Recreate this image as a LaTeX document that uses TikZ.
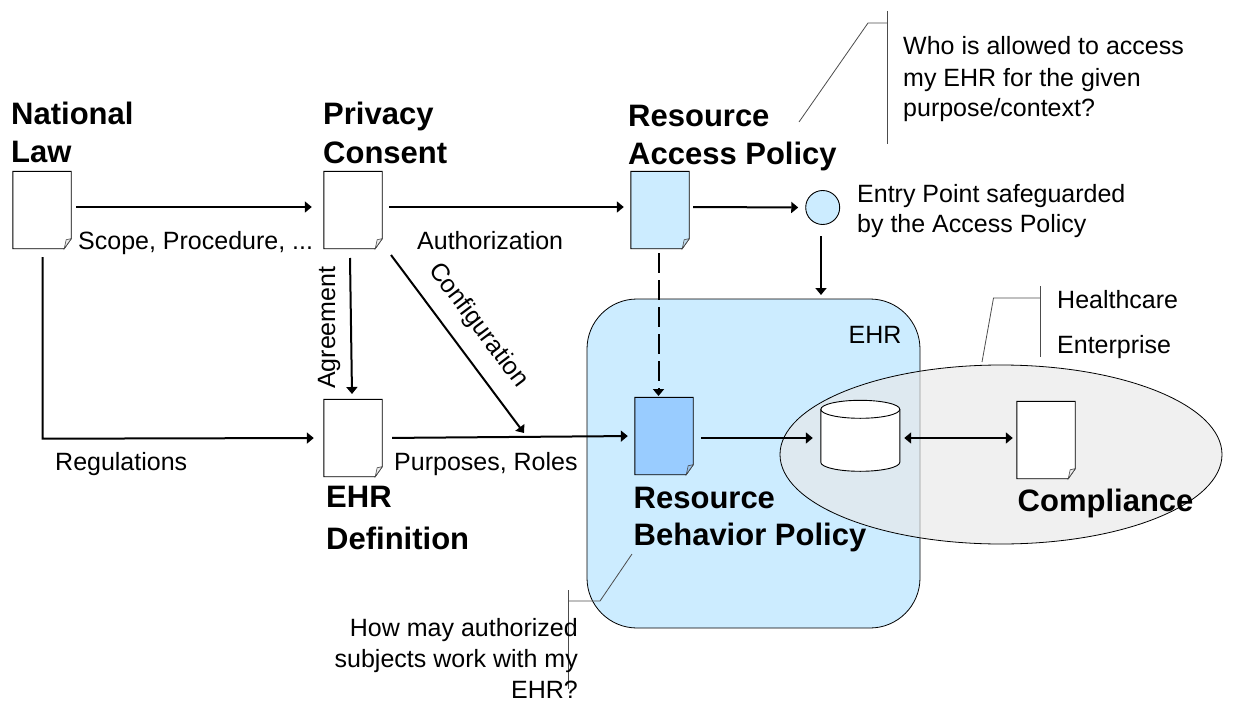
\documentclass[tikz,border=0pt]{standalone}
\usepackage{fontspec}
\setmainfont{Liberation Sans}
\usetikzlibrary{arrows.meta,shapes.geometric}
\definecolor{lightb}{HTML}{CCECFF}
\definecolor{midb}{HTML}{99CCFF}
\tikzset{
  page/.style={inner sep=0pt,minimum width=58pt,minimum height=77pt,draw=none},
  outl/.style={draw=black,line width=0.9pt},
  head/.style={inner sep=0pt,anchor=base west,font=\fontsize{31}{31}\selectfont\bfseries},
  lab/.style={inner sep=0pt,anchor=base west,font=\fontsize{25}{25}\selectfont},
  labr/.style={inner sep=0pt,anchor=base east,font=\fontsize{25}{25}\selectfont},
  arr/.style={line width=2pt,-{Triangle[width=11pt,length=7pt]}},
  darr/.style={line width=2pt,{Triangle[width=11pt,length=7pt]}-{Triangle[width=11pt,length=7pt]}},
  dasharr/.style={line width=2pt,dash pattern=on 20pt off 7pt,-{Triangle[width=11pt,length=7pt]}},
  callout/.style={draw=black!70,line width=0.8pt},
}
\newcommand{\docpage}[4]{%
  \node[page] (#1) at (#2,#3) {};
  \filldraw[outl,fill=#4] (#1.north west) -- (#1.north east) -- ([yshift=10pt]#1.south east)
    -- ([xshift=-7pt]#1.south east) -- (#1.south west) -- cycle;
  \filldraw[draw=black!70,line width=0.6pt,fill=#4!85!gray] ([xshift=-7pt]#1.south east) -- ([xshift=-5pt,yshift=9pt]#1.south east) -- ([yshift=10pt]#1.south east) -- cycle;
}
\begin{document}
\begin{tikzpicture}[x=1pt,y=-1pt]
\useasboundingbox (0,0) rectangle (1248,717);
% container
\node[draw=black,line width=0.8pt,fill=lightb,rounded corners=50pt,inner sep=0pt,minimum width=333pt,minimum height=329pt] (ehrbox) at (753.5,463.5) {};
\node[draw=black,line width=0.8pt,fill=black!9,fill opacity=0.65,inner sep=0pt,ellipse,minimum width=442pt,minimum height=179pt] (ent) at (1001,454.5) {};
% documents
\docpage{law}{42}{210}{white}
\docpage{consent}{353}{210}{white}
\docpage{ehrdef}{353}{438}{white}
\docpage{access}{660}{210}{lightb}
\docpage{behav}{664}{436}{midb}
\docpage{comp}{1046}{440}{white}
\node[draw=black,line width=0.9pt,fill=lightb,circle,inner sep=0pt,minimum size=34pt] (entry) at (822.7,207.5) {};
% database
\node[inner sep=0pt,minimum width=79pt,minimum height=71pt] (db) at (860.5,436) {};
\filldraw[outl,fill=white] (db.north west) ++(0,9) -- ++(0,53) arc[start angle=180,end angle=360,x radius=39.5pt,y radius=9pt] -- ++(0,-53) arc[start angle=0,end angle=180,x radius=39.5pt,y radius=9pt] -- cycle;
\draw[outl] (db.north west) ++(0,9) arc[start angle=180,end angle=360,x radius=39.5pt,y radius=9pt];
% connectors
\draw[arr,shorten <=5pt,shorten >=12pt] ([yshift=3pt]law.east) -- ([yshift=3pt]consent.west);
\coordinate (lawcorner) at (42.7,438.7);
\draw[arr,shorten >=10pt] (42.7,257) -- (lawcorner) -- (ehrdef.west);
\draw[arr] (350,258) -- (352,394);
\draw[arr,shorten <=7pt,shorten >=7pt] ([yshift=3pt]consent.east) -- ([yshift=3pt]access.west);
\draw[arr,shorten <=4pt,shorten >=7pt] ([yshift=3pt]access.east) -- ([yshift=0pt]entry.west);
\draw[arr] (821,236) -- (821,295);
\draw[dasharr] (658.5,253) -- (658.5,396);
\draw[arr] (391,255) -- (524,433);
\draw[arr,shorten <=10pt,shorten >=7pt] (ehrdef.east) -- (behav.west);
\draw[arr,shorten <=8pt,shorten >=8pt] ([yshift=-2pt]behav.east) -- ([yshift=-2pt]db.west);
\draw[darr,shorten <=4pt,shorten >=4pt] ([yshift=-2pt]db.east) -- ([yshift=2pt]comp.west);
% callouts
\coordinate (c1a) at (887,11); \coordinate (c1b) at (887,144); \coordinate (c1c) at (887,23); \coordinate (c1d) at (868,23); \coordinate (c1e) at (799,122);
\draw[callout] (c1a) -- (c1b); \draw[callout] (c1c) -- (c1d) -- (c1e);
\coordinate (c2a) at (1040.5,286); \coordinate (c2b) at (1040.5,357); \coordinate (c2c) at (1040.5,298); \coordinate (c2d) at (993.5,298); \coordinate (c2e) at (982,362);
\draw[callout] (c2a) -- (c2b); \draw[callout] (c2c) -- (c2d) -- (c2e);
\coordinate (c3a) at (568,590); \coordinate (c3b) at (568,689); \coordinate (c3c) at (568,601); \coordinate (c3d) at (600,601); \coordinate (c3e) at (632,554);
\draw[callout] (c3a) -- (c3b); \draw[callout] (c3c) -- (c3d) -- (c3e);
% headings
\node[head] (t1) at (11,124) {National};
\node[head] (t2) at (11,162) {Law};
\node[head] (t3) at (323,124) {Privacy};
\node[head] (t4) at (323,163) {Consent};
\node[head] (t5) at (628,126) {Resource};
\node[head] (t6) at (628,164) {Access Policy};
\node[head] (t7) at (326,507) {EHR};
\node[head] (t8) at (326,549) {Definition};
\node[head] (t9) at (633.5,508) {Resource};
\node[head] (t10) at (633.5,545) {Behavior Policy};
\node[head] (t11) at (1017.5,511) {Compliance};
% labels
\node[lab] (l1) at (78,249) {Scope, Procedure, ...};
\node[lab] (l2) at (55,470) {Regulations};
\node[lab] (l3) at (394,470) {Purposes, Roles};
\node[lab] (l4) at (417,249) {Authorization};
\node[lab,rotate=90] (l5) at (335,389) {Agreement};
\node[lab,rotate=-53] (l6) at (428,270) {Configuration};
\node[lab] (l7) at (857,202) {Entry Point safeguarded};
\node[lab] (l8) at (857,232) {by the Access Policy};
\node[lab] (l9) at (848.5,343) {EHR};
\node[lab] (l10) at (903,55) {Who is allowed to access};
\node[lab] (l11) at (903,86) {my EHR for the given};
\node[lab] (l12) at (903,116) {purpose/context?};
\node[lab] (l13) at (1057,308) {Healthcare};
\node[lab] (l14) at (1057,353) {Enterprise};
\node[labr] (l15) at (578,636) {How may authorized};
\node[labr] (l16) at (578,667) {subjects work with my};
\node[labr] (l17) at (578,698) {EHR?};
\end{tikzpicture}
\end{document}
